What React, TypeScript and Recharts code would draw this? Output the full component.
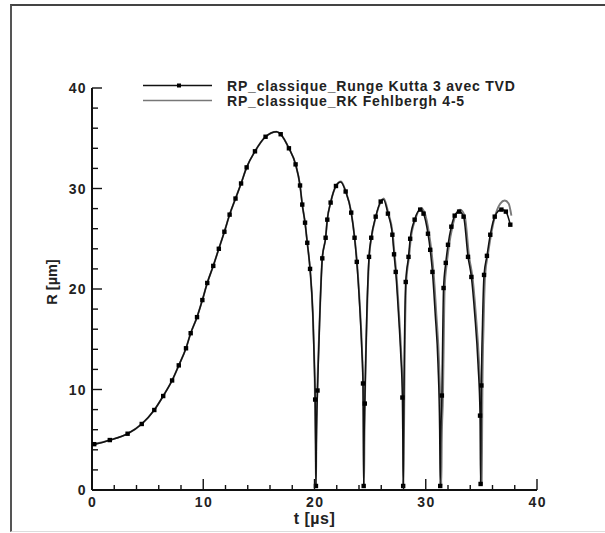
import React from 'react';
import { LineChart, Line, XAxis, YAxis } from 'recharts';

type P = [number, number];

const xTicks = [0, 2, 4, 6, 8, 10, 12, 14, 16, 18, 20, 22, 24, 26, 28, 30, 32, 34, 36, 38, 40];
const yTicks = [0, 2, 4, 6, 8, 10, 12, 14, 16, 18, 20, 22, 24, 26, 28, 30, 32, 34, 36, 38, 40];
const majorTicks = [0, 10, 20, 30, 40];

const seriesNames = ['RP_classique_Runge Kutta 3 avec TVD', 'RP_classique_RK Fehlbergh 4-5'];
const xTitle = 't [µs]';
const yTitle = 'R [µm]';

// Runge Kutta 3 TVD (black) – full curve
const rk3Curve: P[] = [
  [0, 4.55], [0.2, 4.56], [1.6, 4.97], [3.2, 5.6], [4.47, 6.57], [5.6, 7.96], [6.4, 9.35],
  [7.2, 10.9], [7.8, 12.4], [8.45, 14.1], [8.87, 15.6], [9.44, 17.2], [9.92, 18.9], [10.36, 20.6],
  [10.9, 22.3], [11.4, 24.0], [11.9, 25.7], [12.37, 27.4], [12.9, 29.0], [13.4, 30.5], [13.9, 32.1],
  [14.65, 33.7], [15.6, 35.15], [16.6, 35.65], [16.96, 35.4], [17.7, 34.0], [18.3, 32.4], [18.7, 30.3],
  [18.9, 28.4], [19.15, 26.6], [19.35, 24.6], [19.6, 22.0], [19.85, 17.5], [20.0, 12.0], [20.06, 9.0],
  [20.1, 4.5], [20.13, 0.4], [20.17, 5.0], [20.27, 9.9], [20.45, 16.5], [20.7, 23.05], [21.0, 25.1],
  [21.15, 26.9], [21.45, 28.6], [21.93, 30.25], [22.35, 30.65], [22.8, 29.7], [23.3, 27.6], [23.6, 25.1],
  [23.8, 22.7], [24.05, 18.5], [24.25, 14.0], [24.36, 10.6], [24.39, 5.0], [24.42, 0.4], [24.46, 5.0],
  [24.52, 8.6], [24.7, 17.5], [24.9, 23.2], [25.1, 25.1], [25.5, 27.2], [25.95, 28.7], [26.2, 28.9],
  [26.6, 27.5], [27.0, 25.4], [27.15, 23.45], [27.3, 21.7], [27.55, 17.5], [27.75, 13.5], [27.9, 9.2],
  [27.94, 5.0], [27.97, 0.4], [28.0, 5.0], [28.08, 14.0], [28.2, 20.7], [28.45, 23.2], [28.6, 25.0],
  [29.0, 26.9], [29.5, 27.9], [29.8, 27.5], [30.2, 25.5], [30.4, 23.9], [30.6, 21.7], [30.85, 17.5],
  [31.1, 12.5], [31.25, 6.0], [31.3, 0.4], [31.34, 5.0], [31.45, 9.4], [31.52, 15.0], [31.6, 20.1],
  [31.8, 22.6], [32.0, 24.4], [32.3, 26.2], [32.6, 27.3], [33.0, 27.7], [33.4, 27.2], [33.8, 23.2],
  [34.1, 21.2], [34.4, 17.5], [34.7, 12.5], [34.88, 7.4], [34.93, 0.6], [34.97, 6.0], [35.0, 10.4],
  [35.1, 16.5], [35.24, 21.4], [35.5, 23.3], [35.8, 25.4], [36.2, 27.2], [36.8, 27.9], [37.2, 27.7],
  [37.6, 26.4],
];

// Runge Kutta 3 TVD – plotted symbols
const rk3Markers: P[] = [
  [0.2, 4.56], [1.6, 4.97], [3.2, 5.6], [4.47, 6.57], [5.6, 7.96], [6.4, 9.35], [7.2, 10.9],
  [7.8, 12.4], [8.45, 14.1], [8.87, 15.6], [9.44, 17.2], [9.92, 18.9], [10.36, 20.6], [10.9, 22.3],
  [11.4, 24.0], [11.9, 25.7], [12.37, 27.4], [12.9, 29.0], [13.4, 30.5], [13.9, 32.1], [14.65, 33.7],
  [15.6, 35.15], [16.96, 35.4], [17.7, 34.0], [18.3, 32.4], [18.7, 30.3], [18.9, 28.4], [19.15, 26.6],
  [19.35, 24.6], [19.6, 22.0], [20.06, 9.0], [20.13, 0.4], [20.27, 9.9], [20.7, 23.05], [21.0, 25.1],
  [21.15, 26.9], [21.45, 28.6], [21.93, 30.25], [22.8, 29.7], [23.3, 27.6], [23.6, 25.1], [23.8, 22.7],
  [24.36, 10.6], [24.42, 0.4], [24.52, 8.6], [24.9, 23.2], [25.1, 25.1], [25.5, 27.2], [25.95, 28.7],
  [26.6, 27.5], [27.0, 25.4], [27.15, 23.45], [27.3, 21.7], [27.9, 9.2], [27.97, 0.4], [28.2, 20.7],
  [28.45, 23.2], [28.6, 25.0], [29.0, 26.9], [29.5, 27.9], [29.8, 27.5], [30.2, 25.5], [30.4, 23.9],
  [30.6, 21.7], [31.3, 0.4], [31.45, 9.4], [31.6, 20.1], [31.8, 22.6], [32.0, 24.4], [32.3, 26.2],
  [32.6, 27.3], [33.0, 27.7], [33.4, 27.2], [33.8, 23.2], [34.1, 21.2], [34.88, 7.4], [34.93, 0.6],
  [35.0, 10.4], [35.24, 21.4], [35.5, 23.3], [35.8, 25.4], [36.2, 27.2], [36.8, 27.9], [37.2, 27.7],
  [37.6, 26.4],
];

// RK Fehlberg 4-5 (grey)
const rkf45Curve: P[] = [
  [0, 4.55], [1.6, 4.97], [3.2, 5.6], [4.47, 6.57], [5.6, 7.96], [6.4, 9.35], [7.2, 10.9],
  [7.8, 12.4], [8.45, 14.1], [8.87, 15.6], [9.44, 17.2], [9.92, 18.9], [10.36, 20.6], [10.9, 22.3],
  [11.4, 24.0], [11.9, 25.7], [12.37, 27.4], [12.9, 29.0], [13.4, 30.5], [13.9, 32.1], [14.65, 33.7],
  [15.6, 35.15], [16.6, 35.65], [16.96, 35.4], [17.7, 34.0], [18.3, 32.4], [18.7, 30.3], [18.9, 28.4],
  [19.15, 26.6], [19.35, 24.6], [19.6, 22.0], [19.85, 17.5], [20.0, 12.0], [20.1, 4.5], [20.13, 0.4],
  [20.17, 5.0], [20.45, 16.5], [20.7, 23.05], [21.0, 25.1], [21.15, 26.9], [21.45, 28.6], [21.93, 30.25],
  [22.38, 30.7], [22.8, 29.75], [23.3, 27.65], [23.6, 25.2], [23.82, 22.7], [24.07, 18.5], [24.27, 14.0],
  [24.41, 8.0], [24.45, 0.4], [24.49, 5.0], [24.72, 17.5], [24.92, 23.2], [25.12, 25.1], [25.52, 27.2],
  [25.97, 28.7], [26.23, 29.0], [26.63, 27.6], [27.03, 25.5], [27.2, 23.45], [27.35, 21.7], [27.6, 17.5],
  [27.8, 13.5], [27.95, 9.2], [28.0, 0.4], [28.04, 5.0], [28.12, 14.0], [28.25, 20.7], [28.5, 23.2],
  [28.66, 25.0], [29.06, 26.9], [29.58, 28.05], [29.9, 27.6], [30.3, 25.5], [30.5, 23.9], [30.7, 21.7],
  [30.95, 17.5], [31.2, 12.5], [31.35, 6.0], [31.4, 0.4], [31.44, 5.0], [31.55, 9.4], [31.62, 15.0],
  [31.7, 20.1], [31.9, 22.6], [32.1, 24.4], [32.4, 26.2], [32.7, 27.4], [33.1, 27.9], [33.5, 27.3],
  [33.9, 23.2], [34.2, 21.2], [34.5, 17.5], [34.8, 12.5], [34.98, 7.4], [35.03, 0.6], [35.07, 6.0],
  [35.1, 10.4], [35.2, 16.5], [35.34, 21.4], [35.6, 23.5], [35.9, 25.6], [36.3, 27.5], [36.7, 28.5],
  [37.1, 28.8], [37.45, 28.5], [37.7, 27.3],
];

const toRows = (pts: P[]) => pts.map(([t, R]) => ({ t, R }));

const FONT = '"Liberation Sans", Arial, sans-serif';
const AXIS = '#111';
const TEXT = '#222';

const XTick = (props: any) => {
  const { x, y, payload } = props;
  const major = majorTicks.includes(payload.value);
  return (
    <g>
      <line x1={x} y1={y} x2={x} y2={y - (major ? 11 : 5)} stroke={AXIS} strokeWidth={1.4} />
      {major && (
        <text x={x + 0.7} y={y + 17} textAnchor="middle" fontFamily={FONT} fontWeight="bold" fontSize={14} letterSpacing={1.4} fill={TEXT}>
          {payload.value}
        </text>
      )}
    </g>
  );
};

const YTick = (props: any) => {
  const { x, y, payload } = props;
  const major = majorTicks.includes(payload.value);
  return (
    <g>
      <line x1={x} y1={y} x2={x + (major ? 10 : 6)} y2={y} stroke={AXIS} strokeWidth={1.4} />
      {major && (
        <text x={x - 5} y={y + 5} textAnchor="end" fontFamily={FONT} fontWeight="bold" fontSize={14} letterSpacing={1.4} fill={TEXT}>
          {payload.value}
        </text>
      )}
    </g>
  );
};

const SquareDot = (props: any) => {
  const { cx, cy } = props;
  if (cx == null || cy == null) return null;
  return <rect x={cx - 2.2} y={cy - 2.2} width={4.4} height={4.4} fill="#000" />;
};

const YTitle = (props: any) => {
  const vb = props.viewBox || { x: 32, y: 88, width: 60, height: 402 };
  const x = vb.x + 25;
  const y = vb.y + vb.height / 2 - 7;
  return (
    <text
      x={x}
      y={y}
      transform={`rotate(-90, ${x}, ${y})`}
      textAnchor="middle"
      fontFamily={FONT}
      fontWeight="bold"
      fontSize={14.5}
      fill={TEXT}
    >
      {yTitle}
    </text>
  );
};

const LegendBox = () => (
  <svg width={420} height={36} style={{ display: 'block' }}>
    <line x1={0} y1={9.5} x2={69} y2={9.5} stroke="#111" strokeWidth={1.3} />
    <rect x={34} y={7.5} width={4} height={4} fill="#000" />
    <text x={84} y={14.5} fontFamily={FONT} fontWeight="bold" fontSize={14} letterSpacing={0.8} fill={TEXT}>
      {seriesNames[0]}
    </text>
    <line x1={0} y1={24.5} x2={69} y2={24.5} stroke="#777" strokeWidth={1.5} />
    <text x={84} y={29.5} fontFamily={FONT} fontWeight="bold" fontSize={14} letterSpacing={0.8} fill={TEXT}>
      {seriesNames[1]}
    </text>
  </svg>
);

export default function App() {
  return (
    <div
      style={{
        position: 'absolute',
        left: 0,
        top: 0,
        width: 605,
        height: 533,
        overflow: 'hidden',
        background: '#fff',
        fontFamily: FONT,
      }}
    >
      <div
        style={{
          position: 'absolute',
          left: 10,
          top: 4,
          width: 620,
          height: 525,
          borderLeft: '2px solid #555',
          borderTop: '2px solid #444',
          borderBottom: '1px solid #ddd',
        }}
      />
      <div style={{ position: 'absolute', left: 0, top: 0 }}>
        <LineChart width={605} height={533} margin={{ top: 88, right: 68, bottom: 13, left: 32 }}>
          <XAxis
            dataKey="t"
            type="number"
            domain={[0, 40]}
            ticks={xTicks}
            interval={0}
            tickSize={0}
            tickMargin={0}
            tickLine={false}
            tick={<XTick />}
            axisLine={{ stroke: AXIS, strokeWidth: 2 }}
            height={30}
            allowDataOverflow
            label={{
              value: xTitle,
              position: 'insideBottom',
              offset: -4,
              fontFamily: FONT,
              fontWeight: 'bold',
              fontSize: 16,
              letterSpacing: 0.5,
              fill: TEXT,
            }}
          />
          <YAxis
            dataKey="R"
            type="number"
            domain={[0, 40]}
            ticks={yTicks}
            interval={0}
            tickSize={0}
            tickMargin={0}
            tickLine={false}
            tick={<YTick />}
            axisLine={{ stroke: AXIS, strokeWidth: 2 }}
            width={60}
            allowDataOverflow
            label={<YTitle />}
          />
          <Line
            data={toRows(rkf45Curve)}
            dataKey="R"
            name={seriesNames[1]}
            type="monotone"
            stroke="#7a7a7a"
            strokeWidth={1.9}
            dot={false}
            activeDot={false}
            isAnimationActive={false}
          />
          <Line
            data={toRows(rk3Curve)}
            dataKey="R"
            name={seriesNames[0]}
            type="monotone"
            stroke="#111"
            strokeWidth={1.5}
            dot={false}
            activeDot={false}
            isAnimationActive={false}
          />
          <Line
            data={toRows(rk3Markers)}
            dataKey="R"
            name="markers"
            type="monotone"
            stroke="none"
            legendType="none"
            dot={<SquareDot />}
            activeDot={false}
            isAnimationActive={false}
          />
        </LineChart>
      </div>
      <div style={{ position: 'absolute', left: 143, top: 76 }}>
        <LegendBox />
      </div>
    </div>
  );
}
